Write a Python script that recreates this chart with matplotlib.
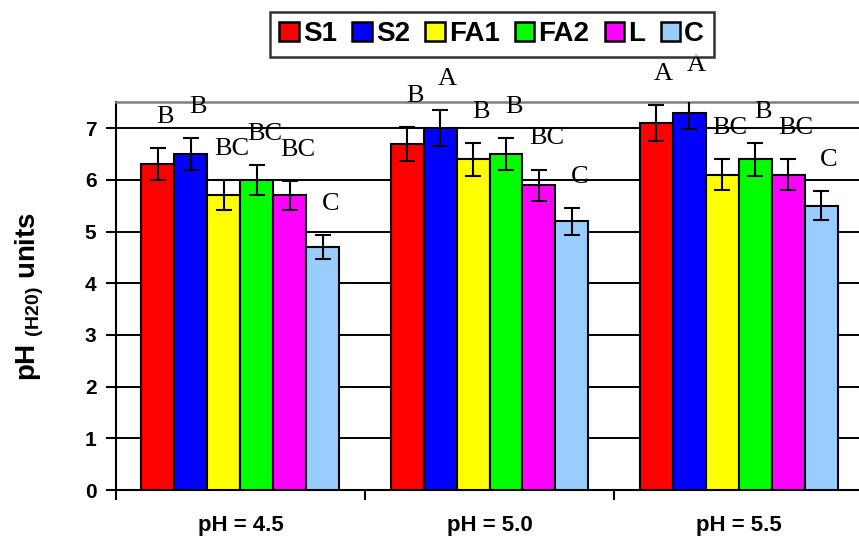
"""
Soil pH after treatments, grouped bar chart
"""
import numpy as np
import matplotlib.pyplot as plt

plt.rcParams['font.family'] = ['Liberation Sans', 'DejaVu Sans']
plt.rcParams['mathtext.fontset'] = 'custom'
plt.rcParams['mathtext.bf'] = 'Liberation Sans:bold'
plt.rcParams['mathtext.rm'] = 'Liberation Sans:bold'

# The data
GROUPS = ["pH = 4.5", "pH = 5.0", "pH = 5.5"]
SERIES = ["S1", "S2", "FA1", "FA2", "L", "C"]
COLORS = ["#FF0000", "#0000FF", "#FFFF00", "#00FF00", "#FF00FF", "#99CCFF"]

S1 = [6.3, 6.7, 7.1]
S2 = [6.5, 7.0, 7.3]
FA1 = [5.7, 6.4, 6.1]
FA2 = [6.0, 6.5, 6.4]
L = [5.7, 5.9, 6.1]
C = [4.7, 5.2, 5.5]

S1_ERR = [0.31, 0.33, 0.35]
S2_ERR = [0.31, 0.35, 0.32]
FA1_ERR = [0.29, 0.32, 0.30]
FA2_ERR = [0.29, 0.31, 0.32]
L_ERR = [0.28, 0.30, 0.30]
C_ERR = [0.23, 0.26, 0.28]

S1_LETTERS = ["B", "B", "A"]
S2_LETTERS = ["B", "A", "A"]
FA1_LETTERS = ["BC", "B", "BC"]
FA2_LETTERS = ["BC", "B", "B"]
L_LETTERS = ["BC", "BC", "BC"]
C_LETTERS = ["C", "C", "C"]

values = [S1, S2, FA1, FA2, L, C]
errors = [S1_ERR, S2_ERR, FA1_ERR, FA2_ERR, L_ERR, C_ERR]
letters = [S1_LETTERS, S2_LETTERS, FA1_LETTERS, FA2_LETTERS, L_LETTERS,
           C_LETTERS]

fig = plt.figure(figsize=(8.59, 5.43), dpi=100)
ax = fig.add_axes([0.135, 0.0976, 0.8697, 0.714])

x = np.arange(len(GROUPS))
width = 0.1325
for i, (name, vals, errs, labs, col) in enumerate(
        zip(SERIES, values, errors, letters, COLORS)):
    pos = x + (i - 2.5) * width
    ax.bar(pos, vals, width, color=col, edgecolor="black", linewidth=1.5,
           label=name, zorder=3)
    ax.errorbar(pos, vals, yerr=errs, fmt="none", ecolor="black",
                elinewidth=1.5, capsize=5.5, capthick=1.5, zorder=4)
    for p, v, e, t in zip(pos, vals, errs, labs):
        ax.text(p + 0.03, v + e + 0.6, t, ha="center", va="center",
                fontsize=19, family="Liberation Serif", fontweight="normal",
                clip_on=False)

ax.set_xlim(-0.5, 2.5)
ax.set_ylim(0, 7.5)
ax.set_yticks(range(8))
ax.yaxis.grid(True, color="black", linewidth=1.4, zorder=0)
ax.set_axisbelow(True)

ax.set_xticks([-0.5, 0.5, 1.5, 2.5])
ax.set_xticklabels([])
ax.set_xticks(x, minor=True)
ax.set_xticklabels(GROUPS, minor=True, fontsize=16, fontweight="bold")
ax.tick_params(axis="x", which="minor", length=0, pad=18)
ax.tick_params(axis="x", which="major", length=7, width=1.5)
ax.tick_params(axis="y", length=7, width=1.5, pad=7, labelsize=15)
for lab in ax.get_yticklabels():
    lab.set_fontweight("bold")

ax.spines["right"].set_visible(False)
ax.spines["top"].set_color("#808080")
ax.spines["top"].set_linewidth(1.8)
ax.spines["left"].set_linewidth(1.5)
ax.spines["bottom"].set_linewidth(1.5)

ax.set_ylabel(r"pH $_{\mathbf{(H20)}}$ units", fontsize=20, fontweight="bold",
              labelpad=28)

leg = fig.legend(loc="center", bbox_to_anchor=(0.5725, 0.9365), ncol=6,
                 frameon=True, fancybox=False, shadow=False,
                 prop={"weight": "bold", "size": 20},
                 handlelength=0.7, handleheight=0.7, handletextpad=0.15,
                 columnspacing=0.55, borderpad=0.35, borderaxespad=0)
leg.get_frame().set_edgecolor("black")
leg.get_frame().set_linewidth(1.8)
for h in leg.legend_handles:
    h.set_linewidth(1.8)

plt.savefig("out.png", dpi=100)
